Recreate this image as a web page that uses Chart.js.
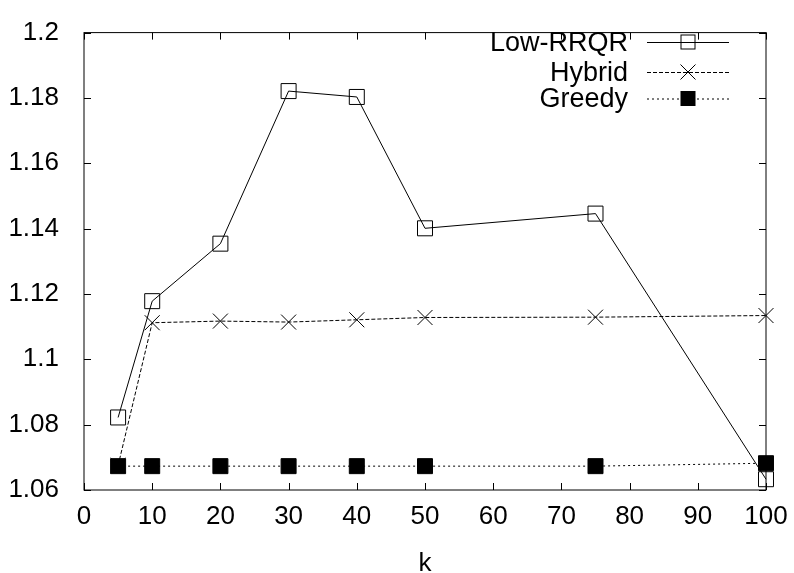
<!DOCTYPE html>
<html lang="en">
<head>
    <meta charset="UTF-8">
    <title>Low-RRQR vs Hybrid vs Greedy</title>
    <script src="https://cdn.jsdelivr.net/npm/chart.js"></script>
    <style>
        html, body { margin: 0; padding: 0; background: #fff; }
        #wrap { width: 794px; height: 573px; }
    </style>
</head>
<body>
    <div id="wrap"><canvas id="kChart"></canvas></div>
    <script>
        // values
        const kValues = [5, 10, 20, 30, 40, 50, 75, 100];
        const lowRRQR = [1.0822, 1.1178, 1.1354, 1.1821, 1.1803, 1.1401, 1.1446, 1.0633];
        const hybrid  = [1.0675, 1.1112, 1.1117, 1.1114, 1.1121, 1.1128, 1.1129, 1.1134];
        const greedy  = [1.0673, 1.0673, 1.0673, 1.0673, 1.0673, 1.0673, 1.0673, 1.0682];
        const seriesNames = ['Low-RRQR', 'Hybrid', 'Greedy'];
        const xTicks = [0, 10, 20, 30, 40, 50, 60, 70, 80, 90, 100];
        const yTicks = [1.06, 1.08, 1.1, 1.12, 1.14, 1.16, 1.18, 1.2];

        const FONT = 'Liberation Sans, Arial, sans-serif';

        function pts(ys) {
            return kValues.map((k, i) => ({ x: k, y: ys[i] }));
        }

        // gnuplot-like frame with inward ticks on all four sides
        const framePlugin = {
            id: 'frame',
            beforeDatasetsDraw(chart) {
                const { ctx, chartArea: a, scales } = chart;
                const len = 7;
                ctx.save();
                ctx.strokeStyle = '#000';
                ctx.lineWidth = 1;
                ctx.strokeRect(a.left, a.top, a.right - a.left, a.bottom - a.top);
                ctx.beginPath();
                xTicks.forEach(v => {
                    const px = Math.round(scales.x.getPixelForValue(v)) + 0.5;
                    ctx.moveTo(px, a.bottom); ctx.lineTo(px, a.bottom - len);
                    ctx.moveTo(px, a.top); ctx.lineTo(px, a.top + len);
                });
                yTicks.forEach(v => {
                    const py = Math.round(scales.y.getPixelForValue(v)) + 0.5;
                    ctx.moveTo(a.left, py); ctx.lineTo(a.left + len, py);
                    ctx.moveTo(a.right, py); ctx.lineTo(a.right - len, py);
                });
                ctx.stroke();
                ctx.restore();
            }
        };

        // legend in the gnuplot style: text right aligned, then sample line + marker
        const keyPlugin = {
            id: 'key',
            afterDraw(chart) {
                const ctx = chart.ctx;
                const textRight = 628, lineL = 647, lineR = 729, mark = 688;
                const rows = [42, 72, 98.5];
                ctx.save();
                ctx.font = '27px ' + FONT;
                ctx.textAlign = 'right';
                ctx.textBaseline = 'middle';
                chart.data.datasets.forEach((ds, i) => {
                    const y = rows[i];
                    ctx.fillStyle = '#000';
                    ctx.fillText(ds.label, textRight, y + 1.5);
                    ctx.strokeStyle = '#000';
                    ctx.lineWidth = 1;
                    ctx.setLineDash(ds.borderDash || []);
                    ctx.beginPath();
                    ctx.moveTo(lineL, y + 0.5); ctx.lineTo(lineR, y + 0.5);
                    ctx.stroke();
                    ctx.setLineDash([]);
                    const h = 7.5;
                    if (ds.pointStyle === 'crossRot') {
                        ctx.beginPath();
                        ctx.moveTo(mark - h, y - h); ctx.lineTo(mark + h, y + h);
                        ctx.moveTo(mark - h, y + h); ctx.lineTo(mark + h, y - h);
                        ctx.stroke();
                    } else if (ds.pointBackgroundColor === '#000') {
                        ctx.fillRect(mark - h, y - h, 2 * h, 2 * h);
                    } else {
                        ctx.strokeRect(mark - h + 0.5, y - h + 0.5, 2 * h - 1, 2 * h - 1);
                    }
                });
                ctx.restore();
            }
        };

        new Chart(document.getElementById('kChart'), {
            type: 'line',
            data: {
                datasets: [
                    {
                        label: seriesNames[0],
                        data: pts(lowRRQR),
                        borderColor: '#000',
                        borderWidth: 1,
                        pointStyle: 'rect',
                        pointRadius: 10.6,
                        pointBorderColor: '#000',
                        pointBorderWidth: 1,
                        pointBackgroundColor: 'rgba(0,0,0,0)',
                        clip: false
                    },
                    {
                        label: seriesNames[1],
                        data: pts(hybrid),
                        borderColor: '#000',
                        borderWidth: 1,
                        borderDash: [4, 2],
                        pointStyle: 'crossRot',
                        pointRadius: 10.6,
                        pointBorderColor: '#000',
                        pointBorderWidth: 1,
                        clip: false
                    },
                    {
                        label: seriesNames[2],
                        data: pts(greedy),
                        borderColor: '#000',
                        borderWidth: 1,
                        borderDash: [2, 3],
                        pointStyle: 'rect',
                        pointRadius: 10.6,
                        pointBorderColor: '#000',
                        pointBorderWidth: 1,
                        pointBackgroundColor: '#000',
                        clip: false
                    }
                ]
            },
            options: {
                responsive: true,
                maintainAspectRatio: false,
                animation: false,
                elements: { line: { tension: 0, fill: false } },
                layout: { padding: { left: 0, right: 28, top: 20, bottom: 0 } },
                plugins: {
                    legend: { display: false },
                    tooltip: { enabled: false }
                },
                scales: {
                    x: {
                        type: 'linear',
                        min: 0,
                        max: 100,
                        afterBuildTicks: s => { s.ticks = xTicks.map(v => ({ value: v })); },
                        afterFit: s => { s.height = 83; },
                        grid: { display: false },
                        border: { display: false },
                        ticks: {
                            color: '#000',
                            font: { family: FONT, size: 26 },
                            padding: 3,
                            maxRotation: 0,
                            autoSkip: false
                        },
                        title: {
                            display: true,
                            text: 'k',
                            color: '#000',
                            font: { family: FONT, size: 26 },
                            padding: { top: -6, bottom: -6 }
                        }
                    },
                    y: {
                        type: 'linear',
                        min: 1.06,
                        max: 1.2,
                        afterBuildTicks: s => { s.ticks = yTicks.map(v => ({ value: v })); },
                        afterFit: s => { s.width = 84; },
                        grid: { display: false },
                        border: { display: false },
                        ticks: {
                            color: '#000',
                            font: { family: FONT, size: 26 },
                            padding: 17,
                            autoSkip: false,
                            callback: v => String(+(+v).toFixed(2))
                        }
                    }
                }
            },
            plugins: [framePlugin, keyPlugin]
        });
    </script>
</body>
</html>
